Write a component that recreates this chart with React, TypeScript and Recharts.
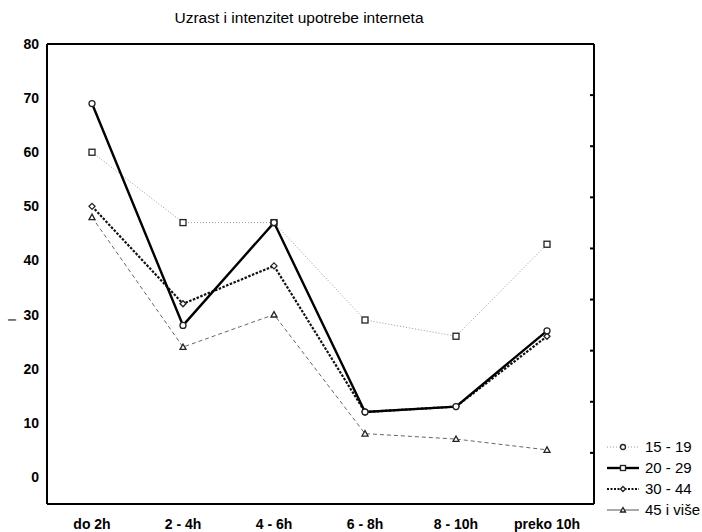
import { LineChart, Line, XAxis, YAxis, ReferenceLine } from "recharts";

const categories = ["do 2h", "2 - 4h", "4 - 6h", "6 - 8h", "8 - 10h", "preko 10h"];
const series15_19 = [60, 47, 47, 29, 26, 43];
const series20_29 = [69, 28, 47, 12, 13, 27];
const series30_44 = [50, 32, 39, 12, 13, 26];
const series45 = [48, 24, 30, 8, 7, 5];
const yTicks = [0, 10, 20, 30, 40, 50, 60, 70, 80];
const yDomain = [-5, 80];
// right frame has 9 equal divisions of its own
const rightTickValues = [1, 2, 3, 4, 5, 6, 7, 8].map(
  (k) => yDomain[0] + ((yDomain[1] - yDomain[0]) * k) / 9
);

const data = categories.map((c, i) => ({
  name: c,
  a: series15_19[i],
  b: series20_29[i],
  c: series30_44[i],
  d: series45[i],
}));

const FONT = "'Liberation Sans', Arial, sans-serif";

type Shape = "circle" | "square" | "diamond" | "triangle";

function Marker({ cx, cy, shape, s = 3 }: { cx: number; cy: number; shape: Shape; s?: number }) {
  const common = { fill: "#fff", stroke: "#222", strokeWidth: 1.3 };
  if (shape === "circle") return <circle cx={cx} cy={cy} r={s} {...common} />;
  if (shape === "square")
    return <rect x={cx - s} y={cy - s} width={2 * s} height={2 * s} {...common} />;
  if (shape === "diamond")
    return (
      <polygon
        points={`${cx},${cy - s} ${cx + s},${cy} ${cx},${cy + s} ${cx - s},${cy}`}
        {...common}
      />
    );
  return (
    <polygon
      points={`${cx},${cy - s} ${cx + s},${cy + s * 0.8} ${cx - s},${cy + s * 0.8}`}
      {...common}
    />
  );
}

const dotFor = (shape: Shape) => (props: any) =>
  <Marker key={`${shape}-${props.index}`} cx={props.cx} cy={props.cy} shape={shape} />;

// short inward notch at the right end of a reference line
const RightNotch = (p: any) => {
  const xr = Math.max(p.x1 ?? 0, p.x2 ?? 0);
  return <line x1={xr - 4} x2={xr} y1={p.y1} y2={p.y2} stroke="#000" strokeWidth={2} />;
};

const legendItems: { label: string; stroke: string; width: number; dash?: string; shape: Shape }[] = [
  { label: "15 - 19", stroke: "#999", width: 1, dash: "1 2", shape: "circle" },
  { label: "20 - 29", stroke: "#000", width: 2.4, shape: "square" },
  { label: "30 - 44", stroke: "#111", width: 2, dash: "2 1.5", shape: "diamond" },
  { label: "45 i više", stroke: "#555", width: 1, shape: "triangle" },
];

function LegendBox() {
  return (
    <div style={{ fontFamily: FONT, fontSize: 15, color: "#000" }}>
      {legendItems.map((it) => (
        <div key={it.label} style={{ display: "flex", alignItems: "center", height: 21 }}>
          <svg width={34} height={12} style={{ marginRight: 4 }}>
            <line
              x1={0}
              y1={6}
              x2={32}
              y2={6}
              stroke={it.stroke}
              strokeWidth={it.width}
              strokeDasharray={it.dash}
            />
            <Marker cx={16} cy={6} shape={it.shape} s={2.5} />
          </svg>
          <span>{it.label}</span>
        </div>
      ))}
    </div>
  );
}

export default function App() {
  return (
    <div style={{ position: "absolute", left: 0, top: 0, width: 702, height: 532, background: "#fff" }}>
      <div
        style={{
          position: "absolute",
          left: 0,
          width: 598,
          top: 9,
          textAlign: "center",
          fontFamily: FONT,
          fontSize: 15.5,
          color: "#000",
        }}
      >
        Uzrast i intenzitet upotrebe interneta
      </div>
      <LineChart
        width={702}
        height={532}
        data={data}
        margin={{ top: 43, right: 98, bottom: 0, left: 0 }}
        style={{ fontFamily: FONT }}
      >
        <XAxis
          dataKey="name"
          padding={{ left: 45, right: 47 }}
          axisLine={{ stroke: "#000", strokeWidth: 2 }}
          tickLine={false}
          tickSize={0}
          tickMargin={15}
          height={28}
          tick={{ fill: "#000", fontSize: 14, fontWeight: 600 }}
        />
        <XAxis
          xAxisId="top"
          orientation="top"
          dataKey="name"
          axisLine={{ stroke: "#000", strokeWidth: 2 }}
          tick={false}
          tickLine={false}
          height={1}
        />
        <YAxis
          domain={yDomain}
          ticks={yTicks}
          width={47}
          axisLine={{ stroke: "#000", strokeWidth: 2 }}
          tickLine={false}
          tickSize={0}
          tickMargin={8}
          tick={{ fill: "#000", fontSize: 14, fontWeight: 600 }}
          label={(props: any) => {
            const vb = props.viewBox || {};
            const x = (vb.x ?? 0) + 12;
            const y = 320;
            return (
              <text
                x={x}
                y={y}
                transform={`rotate(-90 ${x} ${y})`}
                textAnchor="middle"
                dominantBaseline="central"
                fontSize={11}
                fontFamily={FONT}
                fill="#000"
              >
                I
              </text>
            );
          }}
        />
        <YAxis
          yAxisId="right"
          orientation="right"
          type="number"
          domain={[0, 9]}
          width={10}
          axisLine={{ stroke: "#000", strokeWidth: 2 }}
          tickLine={false}
          tick={false}
        />
        {rightTickValues.map((v) => (
          <ReferenceLine key={v} y={v} stroke="#000" shape={RightNotch} />
        ))}
        <Line
          dataKey="a"
          name="15 - 19"
          stroke="#9a9a9a"
          strokeWidth={1}
          strokeDasharray="1 2"
          dot={dotFor("square")}
          isAnimationActive={false}
        />
        <Line
          dataKey="d"
          name="45 i više"
          stroke="#666"
          strokeWidth={1}
          strokeDasharray="4 3"
          dot={dotFor("triangle")}
          isAnimationActive={false}
        />
        <Line
          dataKey="c"
          name="30 - 44"
          stroke="#111"
          strokeWidth={2.2}
          strokeDasharray="2.5 1.5"
          dot={dotFor("diamond")}
          isAnimationActive={false}
        />
        <Line
          dataKey="b"
          name="20 - 29"
          stroke="#000"
          strokeWidth={2.4}
          dot={dotFor("circle")}
          isAnimationActive={false}
        />
      </LineChart>
      <div style={{ position: "absolute", left: 607, top: 436, width: 95 }}>
        <LegendBox />
      </div>
    </div>
  );
}
